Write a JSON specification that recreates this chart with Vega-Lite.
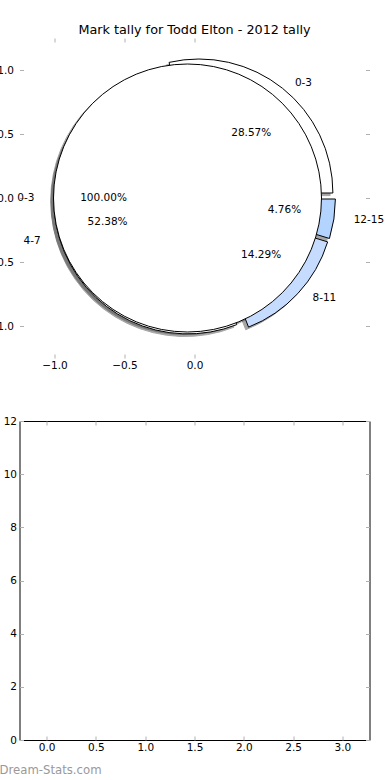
{
  "$schema": "https://vega.github.io/schema/vega-lite/v6.json",
  "autosize": {"type": "pad"},
  "padding": {"left": -12.5, "top": 23, "right": 12, "bottom": 4},
  "background": "white",
  "spacing": 63,
  "bounds": "flush",
  "config": {
    "font": "DejaVu Sans",
    "view": {"stroke": null},
    "axis": {
      "grid": false, "domain": false, "title": null,
      "labelFont": "DejaVu Sans", "labelFontSize": 10.5, "labelColor": "#000000",
      "tickColor": "#b0b0b0", "tickSize": -4, "tickWidth": 1,
      "labelFlush": false, "labelOverlap": false
    }
  },
  "datasets": {
    "outer": [
      {"grade": "0-3", "count": 6},
      {"grade": "12-15", "count": 1},
      {"grade": "8-11", "count": 3},
      {"grade": "4-7", "count": 11}
    ],
    "inner": [
      {"grade": "0-3", "count": 1}
    ],
    "bars": [
      {"x": 0, "v": 0},
      {"x": 1, "v": 0},
      {"x": 2, "v": 0},
      {"x": 3, "v": 0}
    ]
  },
  "vconcat": [
    {
      "width": 350,
      "height": 320,
      "title": {"text": "Mark tally for Todd Elton - 2012 tally", "fontSize": 12.8, "fontWeight": "normal", "font": "DejaVu Sans", "color": "#000000", "anchor": "middle", "frame": "group", "offset": -9, "baseline": "alphabetic"},
      "resolve": {"scale": {"theta": "independent"}, "axis": {"x": "independent", "y": "independent"}},
      "layer": [
        {
          "data": {"name": "outer"},
          "transform": [{"calculate": "indexof(['0-3','12-15','8-11','4-7'], datum.grade)", "as": "ord"}],
          "mark": {"type": "arc", "radius": 134, "fill": "#4d4d4d", "stroke": "#4d4d4d", "strokeWidth": 1, "opacity": 0.5,
            "xOffset": {"expr": "datum.grade === '0-3' ? 1.6 : datum.grade === '12-15' ? 4.1 : datum.grade === '8-11' ? 2.3 : -9.5"},
            "yOffset": {"expr": "datum.grade === '0-3' ? -2.4 : datum.grade === '12-15' ? 3.6 : datum.grade === '8-11' ? 7 : 4.5"}},
          "encoding": {
            "theta": {"field": "count", "type": "quantitative", "stack": true, "scale": {"range": [-0.224399, 6.058786]}},
            "order": {"field": "ord", "type": "quantitative", "sort": "ascending"},
            "x": {"datum": 0, "type": "quantitative", "scale": {"domain": [-1.25, 1.25], "nice": false, "zero": false}, "axis": {"orient": "bottom", "values": [-1, -0.5, 0], "format": ".1f", "labelPadding": 6}},
            "y": {"datum": 0, "type": "quantitative", "scale": {"domain": [-1.25, 1.25], "nice": false, "zero": false}, "axis": {"orient": "left", "values": [-1, -0.5, 0, 0.5, 1], "format": ".1f", "labelPadding": 10}}
          }
        },
        {
          "data": {"name": "inner"},
          "mark": {"type": "arc", "radius": 134, "fill": "#4d4d4d", "stroke": "#4d4d4d", "strokeWidth": 1, "opacity": 0.5, "xOffset": -9.8, "yOffset": 2.6},
          "encoding": {
            "theta": {"field": "count", "type": "quantitative", "stack": true, "scale": {"range": [1.570796, 7.853982]}},
            "x": {"datum": 0, "type": "quantitative", "scale": {"domain": [-1.25, 1.25], "nice": false, "zero": false}, "axis": {"orient": "top", "values": [-1, -0.5, 0], "labels": false}},
            "y": {"datum": 0, "type": "quantitative", "scale": {"domain": [-1.25, 1.25], "nice": false, "zero": false}, "axis": {"orient": "right", "values": [-1, -0.5, 0, 0.5, 1], "labels": false}}
          }
        },
        {
          "data": {"name": "outer"},
          "transform": [{"calculate": "indexof(['0-3','12-15','8-11','4-7'], datum.grade)", "as": "ord"}],
          "mark": {"type": "arc", "radius": 134, "stroke": "#000000", "strokeWidth": 1,
            "xOffset": {"expr": "datum.grade === '0-3' ? 4.4 : datum.grade === '12-15' ? 6.9 : datum.grade === '8-11' ? 5.1 : -6.7"},
            "yOffset": {"expr": "datum.grade === '0-3' ? -5 : datum.grade === '12-15' ? 1 : datum.grade === '8-11' ? 4.4 : 1.9"}},
          "encoding": {
            "theta": {"field": "count", "type": "quantitative", "stack": true, "scale": {"range": [-0.224399, 6.058786]}},
            "order": {"field": "ord", "type": "quantitative", "sort": "ascending"},
            "color": {"field": "grade", "type": "nominal", "scale": {"domain": ["0-3", "4-7", "8-11", "12-15"], "range": ["#ffffff", "#ffffff", "#c6dcff", "#b3d4ff"]}, "legend": null},
            "x": {"datum": 0, "type": "quantitative", "scale": {"domain": [-1.25, 1.25], "nice": false, "zero": false}, "axis": null},
            "y": {"datum": 0, "type": "quantitative", "scale": {"domain": [-1.25, 1.25], "nice": false, "zero": false}, "axis": null}
          }
        },
        {
          "data": {"name": "inner"},
          "mark": {"type": "arc", "radius": 134, "fill": "#ffffff", "stroke": "#000000", "strokeWidth": 1, "xOffset": -7, "yOffset": 0},
          "encoding": {
            "theta": {"field": "count", "type": "quantitative", "stack": true, "scale": {"range": [1.570796, 7.853982]}},
            "x": {"datum": 0, "type": "quantitative", "scale": {"domain": [-1.25, 1.25], "nice": false, "zero": false}, "axis": null},
            "y": {"datum": 0, "type": "quantitative", "scale": {"domain": [-1.25, 1.25], "nice": false, "zero": false}, "axis": null}
          }
        },
        {
          "data": {"name": "outer"},
          "transform": [{"calculate": "indexof(['0-3','12-15','8-11','4-7'], datum.grade)", "as": "ord"}],
          "mark": {"type": "text", "radius": 147.4, "fontSize": 10.5, "font": "DejaVu Sans", "color": "#000000", "baseline": "middle",
            "align": {"expr": "datum.grade === '4-7' ? 'right' : 'left'"},
            "dx": {"expr": "datum.grade === '0-3' ? 8.5 : datum.grade === '12-15' ? 13.4 : datum.grade === '8-11' ? 9.9 : -13"},
            "dy": {"expr": "datum.grade === '0-3' ? 0.2 : datum.grade === '12-15' ? 0 : datum.grade === '8-11' ? -0.1 : 0"}},
          "encoding": {
            "theta": {"field": "count", "type": "quantitative", "stack": true, "scale": {"range": [-0.224399, 6.058786]}},
            "order": {"field": "ord", "type": "quantitative", "sort": "ascending"},
            "text": {"field": "grade", "type": "nominal"}
          }
        },
        {
          "data": {"name": "outer"},
          "transform": [
            {"calculate": "indexof(['0-3','12-15','8-11','4-7'], datum.grade)", "as": "ord"},
            {"joinaggregate": [{"op": "sum", "field": "count", "as": "total"}]},
            {"calculate": "datum.count / datum.total", "as": "pct"}
          ],
          "mark": {"type": "text", "radius": 80.4, "fontSize": 10.5, "font": "DejaVu Sans", "color": "#000000", "baseline": "middle", "align": "center",
            "dx": {"expr": "datum.grade === '0-3' ? 6.6 : datum.grade === '12-15' ? 10.5 : datum.grade === '8-11' ? 7.7 : -10.1"},
            "dy": {"expr": "datum.grade === '0-3' ? -2.2 : datum.grade === '12-15' ? 0.5 : datum.grade === '8-11' ? 2 : 0.8"}},
          "encoding": {
            "theta": {"field": "count", "type": "quantitative", "stack": true, "scale": {"range": [-0.224399, 6.058786]}},
            "order": {"field": "ord", "type": "quantitative", "sort": "ascending"},
            "text": {"field": "pct", "type": "quantitative", "format": ".2%"}
          }
        },
        {
          "data": {"name": "inner"},
          "mark": {"type": "text", "radius": 147.4, "fontSize": 10.5, "font": "DejaVu Sans", "color": "#000000", "baseline": "middle", "align": "right", "dx": -12.6},
          "encoding": {
            "theta": {"field": "count", "type": "quantitative", "stack": true, "scale": {"range": [1.570796, 7.853982]}},
            "text": {"field": "grade", "type": "nominal"}
          }
        },
        {
          "data": {"name": "inner"},
          "transform": [
            {"joinaggregate": [{"op": "sum", "field": "count", "as": "total"}]},
            {"calculate": "datum.count / datum.total", "as": "pct"}
          ],
          "mark": {"type": "text", "radius": 80.4, "fontSize": 10.5, "font": "DejaVu Sans", "color": "#000000", "baseline": "middle", "align": "center", "dx": -10.6},
          "encoding": {
            "theta": {"field": "count", "type": "quantitative", "stack": true, "scale": {"range": [1.570796, 7.853982]}},
            "text": {"field": "pct", "type": "quantitative", "format": ".2%"}
          }
        }
      ]
    },
    {
      "width": 350,
      "height": 319,
      "view": {"stroke": "#000000", "strokeWidth": 1},
      "title": {"text": "Dream-Stats.com", "orient": "bottom", "anchor": "start", "frame": "group", "dx": -20, "offset": 12, "fontSize": 11.7, "fontWeight": "normal", "color": "#999999", "font": "DejaVu Sans"},
      "resolve": {"axis": {"x": "independent", "y": "independent"}},
      "layer": [
        {
          "data": {"name": "bars"},
          "mark": {"type": "bar", "width": 45.8, "fill": "#c6dcff"},
          "encoding": {
            "x": {"field": "x", "type": "quantitative", "scale": {"domain": [-0.225, 3.225], "nice": false, "zero": false}, "axis": {"orient": "bottom", "values": [0, 0.5, 1, 1.5, 2, 2.5, 3], "format": ".1f", "labelPadding": 6.5}},
            "y": {"field": "v", "type": "quantitative", "scale": {"domain": [0, 12], "nice": false}, "axis": {"orient": "left", "values": [0, 2, 4, 6, 8, 10, 12], "format": "d", "labelPadding": 7}}
          }
        },
        {
          "data": {"name": "bars"},
          "mark": {"type": "point", "opacity": 0},
          "encoding": {
            "x": {"field": "x", "type": "quantitative", "scale": {"domain": [-0.225, 3.225], "nice": false, "zero": false}, "axis": {"orient": "top", "values": [0, 0.5, 1, 1.5, 2, 2.5, 3], "labels": false}},
            "y": {"field": "v", "type": "quantitative", "scale": {"domain": [0, 12], "nice": false}, "axis": {"orient": "right", "values": [0, 2, 4, 6, 8, 10, 12], "labels": false}}
          }
        }
      ]
    }
  ]
}
